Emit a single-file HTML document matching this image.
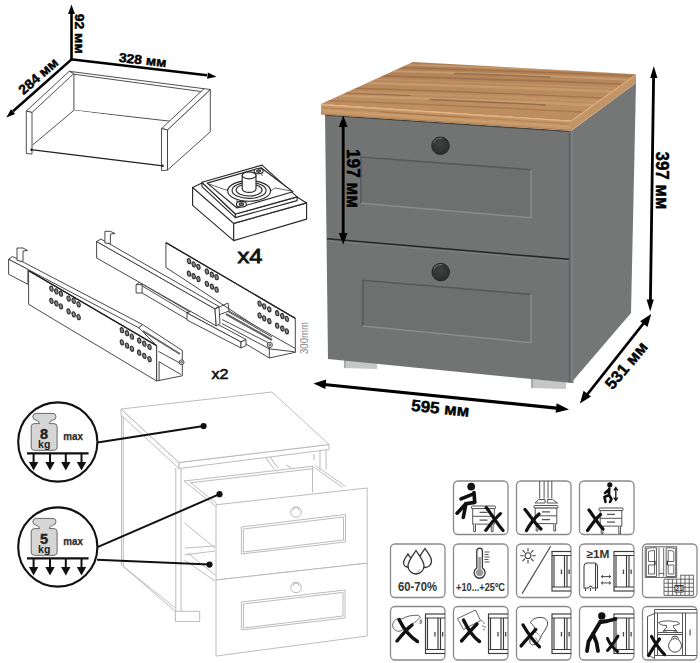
<!DOCTYPE html>
<html><head><meta charset="utf-8">
<style>
html,body{margin:0;padding:0;background:#fff;width:700px;height:663px;overflow:hidden}
svg{display:block}
text{font-family:"Liberation Sans",sans-serif}
.b{font-weight:bold}
</style></head><body>
<svg width="700" height="663" viewBox="0 0 700 663">
<!-- ============ LINE DRAWING (bottom-left) ============ -->
<g id="ld" fill="#fff" stroke="#b4b4b4" stroke-width="0.9" stroke-linejoin="round">
<!-- body left side -->
<path d="M121.5,415 V565 L175.4,611.3 M123.3,417 V566.5 L175.4,608" fill="none"/>
<path d="M175.8,468 V611.5 M181,468 V611.5" fill="none"/>
<polygon points="175.4,611.3 199.7,611.3 199.7,621.5 175.4,621.5"/>
<path d="M320,449.5 V470 M326,449.5 V470" fill="none"/>
<!-- top -->
<polygon points="121,409 179,462.5 179,468.5 121,415"/>
<polygon points="179,462.5 329,444.5 329,449.5 179,468.5"/>
<polygon points="121,409 272,392 329,444.5 179,462.5"/>
<!-- open drawer 1 inner -->
<path d="M184,481 L312.5,466.3 M190,482.8 L312.5,468.8 M312.5,466.3 V492.5 M184,481 L215.5,506 M190,482 L216.5,503.5 M312.5,466.3 L342.5,487.5 M315.5,465.5 L345.5,486.5" fill="none"/>
<path d="M184.4,522.8 L215,548 M184.4,554.9 L215,551 M184.4,560 L215,581 M185,548 L215,546 M188,553 L215,575" fill="none"/>
<!-- hardware glimpses -->
<path d="M266,458 L274,469 M270,457 L278,468 M286,465 L291,468 M314,454 V460" fill="none" stroke="#aaa"/>
<!-- drawer fronts -->
<polygon points="216,504.8 367.2,488 367.2,563.2 216,580"/>
<polygon points="216,580 367.2,563.2 367.2,636 216,656"/>
<polygon points="241.4,527 345.5,514.4 345.5,542 241.4,554"/>
<polygon points="243.4,529 343.5,517 343.5,540 243.4,552" fill="none"/>
<polygon points="241.4,602 345,590 345,618 241.4,630"/>
<polygon points="243.4,604 343,592.4 343,616 243.4,628" fill="none"/>
<circle cx="296" cy="512" r="5.3"/>
<circle cx="296" cy="587.5" r="5.3"/>
<path d="M293,510.5 A3,3 0 0 1 299,510.5 M293,586 A3,3 0 0 1 299,586" fill="none"/>
</g>
<!-- leader lines -->
<g stroke="#111" stroke-width="2" fill="none">
<path d="M97.5,442.6 L203.6,426"/>
<path d="M97.5,547.2 L219.5,494.2"/>
<path d="M97,559.8 L209.5,564.6"/>
</g>
<g fill="#111">
<circle cx="203.6" cy="426" r="3.1"/>
<circle cx="219.5" cy="494.2" r="3.1"/>
<circle cx="209.5" cy="564.6" r="3.1"/>
</g>
<!-- weight circles -->
<defs>
<g id="wt">
<circle cx="57.8" cy="442" r="39.6" fill="#fff" stroke="#111" stroke-width="2.1"/>
<path d="M36,413.4 H53 Q56,413.4 56,416.8 Q56,419.6 52.5,420.3 Q49.3,421 49.3,423.6 H54 Q57.1,423.6 57.1,427 V447 Q57.1,450.3 54,450.3 H34.3 Q31.2,450.3 31.2,447 V427 Q31.2,423.6 34.3,423.6 H39.5 Q39.5,421 36.2,420.3 Q32.8,419.6 32.8,416.8 Q32.8,413.4 36,413.4 Z" fill="#d6d6d6" stroke="#6a6a6a" stroke-width="1"/>
<text x="44.2" y="448" font-size="10.5" class="b" text-anchor="middle" fill="#222">kg</text>
<text x="63.3" y="440.3" font-size="11.5" class="b" fill="#2a2a2a" stroke="#2a2a2a" stroke-width="0.25" textLength="19.6" lengthAdjust="spacingAndGlyphs">max</text>
<path d="M27,453.4 H88.6" stroke="#111" stroke-width="2.2"/>
<path d="M33.6,453 V463 M50,453 V463 M65.8,453 V463 M81.5,453 V463" stroke="#111" stroke-width="2"/>
<path d="M28.9,462 H38.3 L33.6,470.5 Z M45.3,462 H54.7 L50,470.5 Z M61.1,462 H70.5 L65.8,470.5 Z M76.8,462 H86.2 L81.5,470.5 Z" fill="#111"/>
</g>
</defs>
<use href="#wt"/>
<text x="44" y="438.6" font-size="14.5" class="b" text-anchor="middle" fill="#222" stroke="#222" stroke-width="0.4">8</text>
<use href="#wt" y="105"/>
<text x="44" y="543.6" font-size="14.5" class="b" text-anchor="middle" fill="#222" stroke="#222" stroke-width="0.4">5</text>

<!-- ============ DRAWER BOX (top-left) ============ -->
<g id="box" fill="#fff" stroke="#3c3c3c" stroke-width="0.9" stroke-linejoin="round">
<!-- back panel -->
<polygon points="69.2,71.3 204,88.7 204,125 73.9,110.3 73.9,74"/>
<path d="M73.9,74.2 L201,91.5" fill="none"/>
<!-- bottom -->
<polygon points="32,145 73.9,110.3 166,122.3 162.8,165.8 30.7,149.6" stroke="none"/>
<path d="M32.6,145 L73.9,110.3" fill="none"/>
<path d="M31,149.6 L162.8,165.8" fill="none" stroke-width="1.3" stroke="#222"/>
<!-- left panel -->
<polygon points="26.3,111 69.2,71.3 73.9,73.5 32,112.5"/>
<polygon points="26.3,111 32,112.5 32,154 26.3,153.5"/>
<!-- right panel -->
<polygon points="167.5,129.9 210.3,89.5 210.3,131.8 167.5,170.1"/>
<polygon points="161.5,128.6 204,88.7 210.3,89.5 167.5,129.9"/>
<polygon points="161.5,128.6 167.5,129.9 167.5,170.1 161.5,170.6"/>
<circle cx="31.5" cy="149.8" r="1.2" fill="#222" stroke="none"/>
<circle cx="162.6" cy="165.8" r="1.2" fill="#222" stroke="none"/>
</g>
<!-- dims -->
<g stroke="#000" stroke-width="2.6" fill="none" stroke-linecap="butt">
<path d="M71.5,59.4 L71.5,13"/>
<path d="M70.5,59.3 L207,75.2"/>
<path d="M72.4,58.6 L13,111.3"/>
</g>
<g fill="#000">
<polygon points="71.5,4.6 68.1,14 74.9,14"/>
<polygon points="216.5,76.8 207.9,72.6 207.1,78.8"/>
<polygon points="6.3,117.6 11,109.3 15.2,114"/>
</g>
<g class="b" stroke="#000" stroke-width="0.45">
<text font-size="13.5" transform="translate(75,13.7) rotate(90)" textLength="40" lengthAdjust="spacingAndGlyphs">92 мм</text>
<text font-size="13" transform="translate(118.4,61.8) rotate(6.3)" textLength="47.8" lengthAdjust="spacingAndGlyphs">328 мм</text>
<text font-size="13.5" transform="translate(23.6,95.3) rotate(-41.4)" textLength="47.5" lengthAdjust="spacingAndGlyphs">284 мм</text>
</g>

<!-- ============ LEG BASE x4 ============ -->
<g id="leg" fill="#fff" stroke="#2a2a2a" stroke-width="1.15" stroke-linejoin="round">
<polygon points="192.6,187.4 233.7,223.4 233.7,240.6 192.6,205.4"/>
<polygon points="233.7,223.4 306.6,202.9 306.6,219.1 233.7,240.6"/>
<polygon points="192.6,187.4 202,183 297,197 306.6,202.9 233.7,223.4"/>
<!-- plate -->
<polygon points="202,182.3 235.4,214 235.4,217.6 202,186.6"/>
<polygon points="235.4,214 297.1,196.9 297.1,200.6 235.4,217.6"/>
<polygon points="202,182.3 262,165.1 297.1,196.9 235.4,214"/>
<polygon points="207.1,183.1 261.1,167.7 292.9,191.7 237.1,208"/>
<path d="M209,184 L226,190 L237,186 M291,191 L275,188 L268,193 M237.1,208 L237,198 M261.1,167.7 L262,176" fill="none" stroke-width="0.7"/>
<ellipse cx="249.1" cy="190.9" rx="21.4" ry="10.3"/>
<ellipse cx="249.1" cy="190.4" rx="17" ry="8"/>
<ellipse cx="249.1" cy="190" rx="13" ry="6"/>
<path d="M242.2,189 L242.2,175.4 A6.9,3.4 0 0 1 256,175.4 L256,189 A6.9,3.4 0 0 1 242.2,189 Z"/>
<ellipse cx="249.1" cy="175.4" rx="6.9" ry="3.4"/>
<ellipse cx="241.4" cy="204.2" rx="5" ry="2.8"/>
<ellipse cx="241.4" cy="204.2" rx="2.2" ry="1.3" fill="#888"/>
<ellipse cx="258.6" cy="171.1" rx="4.5" ry="2.6"/>
<ellipse cx="258.6" cy="171.1" rx="2" ry="1.2" fill="#888"/>
</g>
<text x="237.5" y="262.5" font-size="19.5" textLength="25" lengthAdjust="spacingAndGlyphs" fill="#111" stroke="#111" stroke-width="0.8">x4</text>

<!-- ============ SLIDES ============ -->
<g id="slide2" fill="#fff" stroke="#333" stroke-width="0.9" stroke-linejoin="round">
<polygon points="165.9,242.6 295.3,318.3 295.3,352.3 165.9,267.4"/>
<path d="M165.9,242.6 L295.3,318.3" fill="none" stroke="#222" stroke-width="1.4"/>
<g fill="#8e8e8e" stroke="#2e2e2e" stroke-width="1.1">
<ellipse cx="189.0" cy="261.1" rx="1.6" ry="2.6" transform="rotate(-12 189.0 261.1)"/>
<ellipse cx="193.7" cy="264.3" rx="1.6" ry="2.6" transform="rotate(-12 193.7 264.3)"/>
<ellipse cx="198.4" cy="266.8" rx="1.6" ry="2.6" transform="rotate(-12 198.4 266.8)"/>
<ellipse cx="206.9" cy="271.5" rx="1.6" ry="2.6" transform="rotate(-12 206.9 271.5)"/>
<ellipse cx="211.9" cy="274.7" rx="1.6" ry="2.6" transform="rotate(-12 211.9 274.7)"/>
<ellipse cx="216.6" cy="277.2" rx="1.6" ry="2.6" transform="rotate(-12 216.6 277.2)"/>
<ellipse cx="189.0" cy="273.7" rx="1.6" ry="2.6" transform="rotate(-12 189.0 273.7)"/>
<ellipse cx="193.7" cy="276.2" rx="1.6" ry="2.6" transform="rotate(-12 193.7 276.2)"/>
<ellipse cx="198.4" cy="279.0" rx="1.6" ry="2.6" transform="rotate(-12 198.4 279.0)"/>
<ellipse cx="206.9" cy="283.8" rx="1.6" ry="2.6" transform="rotate(-12 206.9 283.8)"/>
<ellipse cx="211.9" cy="286.6" rx="1.6" ry="2.6" transform="rotate(-12 211.9 286.6)"/>
<ellipse cx="216.6" cy="289.7" rx="1.6" ry="2.6" transform="rotate(-12 216.6 289.7)"/>
<ellipse cx="259.6" cy="303.6" rx="1.6" ry="2.6" transform="rotate(-12 259.6 303.6)"/>
<ellipse cx="264.2" cy="306.4" rx="1.6" ry="2.6" transform="rotate(-12 264.2 306.4)"/>
<ellipse cx="269.3" cy="309.3" rx="1.6" ry="2.6" transform="rotate(-12 269.3 309.3)"/>
<ellipse cx="277.2" cy="313.2" rx="1.6" ry="2.6" transform="rotate(-12 277.2 313.2)"/>
<ellipse cx="282.3" cy="316.0" rx="1.6" ry="2.6" transform="rotate(-12 282.3 316.0)"/>
<ellipse cx="286.8" cy="318.9" rx="1.6" ry="2.6" transform="rotate(-12 286.8 318.9)"/>
<ellipse cx="259.6" cy="315.5" rx="1.6" ry="2.6" transform="rotate(-12 259.6 315.5)"/>
<ellipse cx="264.2" cy="318.3" rx="1.6" ry="2.6" transform="rotate(-12 264.2 318.3)"/>
<ellipse cx="269.3" cy="321.1" rx="1.6" ry="2.6" transform="rotate(-12 269.3 321.1)"/>
<ellipse cx="277.2" cy="325.7" rx="1.6" ry="2.6" transform="rotate(-12 277.2 325.7)"/>
<ellipse cx="282.3" cy="328.5" rx="1.6" ry="2.6" transform="rotate(-12 282.3 328.5)"/>
<ellipse cx="286.8" cy="331.3" rx="1.6" ry="2.6" transform="rotate(-12 286.8 331.3)"/>
</g>
<polygon points="216,316 229,311 295.3,348.5 295.3,352.3 269.3,358 216,326"/>
<path d="M269.3,343.2 V358 M222,319.5 L269.3,343.2 M222,323.5 L269.3,348.9 L294.2,351.7 M228,311.5 L272,337" fill="none"/>
<path d="M226,314 L272,340" fill="none" stroke="#666" stroke-width="2.2"/>
<circle cx="269.8" cy="344.9" r="2.6"/>
<circle cx="269.8" cy="344.9" r="1"/>
<polygon points="136.1,284.6 139.5,282.3 188.3,311 188.3,320 142.1,293 136.1,293"/>
<path d="M136.1,284.6 H142.1 V293 M142.1,284.6 L145.5,282.3 M142.1,285.8 L188.3,313.5" fill="none"/>
<polygon points="187,313 192,310.5 246,339.5 241,342"/>
<polygon points="187,313 241,342 241,348 187,320"/>
<polygon points="241,342 246,339.5 246,345.5 241,348"/>
<polygon points="96.6,241.5 215,308.9 216.2,325.9 96.6,258"/>
<polygon points="96.6,241.5 101,239 219,306.5 215,308.9"/>
<polygon points="215,308.9 219,306.5 220,323.5 216.2,325.9"/>
<path d="M215,308.9 L228,303 L229,311" fill="none"/>
<polygon points="104.9,243 104.9,231.3 110.4,231.3 115.1,233.6 110.4,234 110.4,243.5"/>
</g>
<g id="slide1" fill="#fff" stroke="#333" stroke-width="0.9" stroke-linejoin="round">
<polygon points="8.6,259.3 12.5,256.5 142.5,324.5 138.8,327.8"/>
<polygon points="8.6,259.3 27.9,269.3 27.9,284.3 8.6,274.3"/>
<polygon points="17,260.5 17,248 23,248 27.5,250.5 23,251 23,261.5"/>
<polygon points="138.8,327.8 142.5,324.5 182.3,350.5 182.3,375.8 156.6,381 156.6,345.6"/>
<path d="M158.5,351.4 L179.7,363 M159.1,361.7 L181,374.6 M159.1,361.7 V381" fill="none"/>
<path d="M143,331 L180,354" fill="none" stroke="#666" stroke-width="2"/>
<circle cx="181.6" cy="362.3" r="2.4"/>
<circle cx="181.6" cy="362.3" r="0.9"/>
<polygon points="28.6,270.7 156.6,345.6 156.6,381 28.6,304.3"/>
<path d="M28.6,270.7 L156.6,345.6" fill="none" stroke="#222" stroke-width="1.4"/>
<g fill="#8e8e8e" stroke="#2e2e2e" stroke-width="1.1">
<ellipse cx="51.4" cy="288.6" rx="1.6" ry="2.6" transform="rotate(-12 51.4 288.6)"/>
<ellipse cx="56.3" cy="291.4" rx="1.6" ry="2.6" transform="rotate(-12 56.3 291.4)"/>
<ellipse cx="60.9" cy="293.7" rx="1.6" ry="2.6" transform="rotate(-12 60.9 293.7)"/>
<ellipse cx="68.6" cy="298.6" rx="1.6" ry="2.6" transform="rotate(-12 68.6 298.6)"/>
<ellipse cx="73.7" cy="300.9" rx="1.6" ry="2.6" transform="rotate(-12 73.7 300.9)"/>
<ellipse cx="78.6" cy="304.3" rx="1.6" ry="2.6" transform="rotate(-12 78.6 304.3)"/>
<ellipse cx="51.4" cy="300.9" rx="1.6" ry="2.6" transform="rotate(-12 51.4 300.9)"/>
<ellipse cx="56.3" cy="303.4" rx="1.6" ry="2.6" transform="rotate(-12 56.3 303.4)"/>
<ellipse cx="60.9" cy="306.3" rx="1.6" ry="2.6" transform="rotate(-12 60.9 306.3)"/>
<ellipse cx="68.6" cy="311.4" rx="1.6" ry="2.6" transform="rotate(-12 68.6 311.4)"/>
<ellipse cx="73.7" cy="314.3" rx="1.6" ry="2.6" transform="rotate(-12 73.7 314.3)"/>
<ellipse cx="78.6" cy="317.1" rx="1.6" ry="2.6" transform="rotate(-12 78.6 317.1)"/>
<ellipse cx="121.9" cy="330.2" rx="1.6" ry="2.6" transform="rotate(-12 121.9 330.2)"/>
<ellipse cx="127.0" cy="333.2" rx="1.6" ry="2.6" transform="rotate(-12 127.0 333.2)"/>
<ellipse cx="131.9" cy="336.6" rx="1.6" ry="2.6" transform="rotate(-12 131.9 336.6)"/>
<ellipse cx="139.2" cy="340.5" rx="1.6" ry="2.6" transform="rotate(-12 139.2 340.5)"/>
<ellipse cx="144.3" cy="343.7" rx="1.6" ry="2.6" transform="rotate(-12 144.3 343.7)"/>
<ellipse cx="149.5" cy="346.9" rx="1.6" ry="2.6" transform="rotate(-12 149.5 346.9)"/>
<ellipse cx="121.9" cy="342.4" rx="1.6" ry="2.6" transform="rotate(-12 121.9 342.4)"/>
<ellipse cx="127.0" cy="345.6" rx="1.6" ry="2.6" transform="rotate(-12 127.0 345.6)"/>
<ellipse cx="131.9" cy="348.8" rx="1.6" ry="2.6" transform="rotate(-12 131.9 348.8)"/>
<ellipse cx="139.2" cy="352.7" rx="1.6" ry="2.6" transform="rotate(-12 139.2 352.7)"/>
<ellipse cx="144.3" cy="355.9" rx="1.6" ry="2.6" transform="rotate(-12 144.3 355.9)"/>
<ellipse cx="149.5" cy="359.1" rx="1.6" ry="2.6" transform="rotate(-12 149.5 359.1)"/>
</g>
</g>

<!-- ============ NIGHTSTAND ============ -->
<g id="stand">
<polygon points="344,359 377,362 377,369 344,368" fill="#c6c6c6"/>
<polygon points="344,359 346,359.2 346,368.2 344,368" fill="#aaaaaa"/>
<polygon points="531,379 566,382 566,389 531,388" fill="#c6c6c6"/>
<polygon points="531,379 533,379.2 533,388.1 531,388" fill="#aaaaaa"/>
<polygon points="571,131 636,83 631,313 571,383" fill="#757777"/>
<polygon points="325,114.5 572,131 572,383 328,359" fill="#727373"/>
<path d="M325,115.2 L571,131.6" stroke="#3c3d3d" stroke-width="1.3" opacity="0.85"/>
<polygon points="568.5,131 570.8,131 570.8,383 568.5,382" fill="#636568"/>
<polygon points="570.8,131 573.5,131 573.5,383 570.8,383" fill="#7c7e80"/>
<path d="M327,238.8 L569,259.3" stroke="#262626" stroke-width="1.5" fill="none"/>
<path d="M328,241 L568,261.3" stroke="#7e7f7f" stroke-width="1" fill="none"/>
<!-- inset panels -->
<polygon points="361,157 531,169.7 531,217.7 361,203.3" fill="#6e6f6f"/>
<path d="M361,203.3 L361,157 L531,169.7" stroke="#58595a" stroke-width="1.6" fill="none"/>
<path d="M531,169.7 L531,217.7 L361,203.3" stroke="#8a8b8c" stroke-width="1.5" fill="none"/>
<polygon points="362.7,280.3 531,294.4 531,342.7 362.7,326" fill="#6e6f6f"/>
<path d="M362.7,326 L362.7,280.3 L531,294.4" stroke="#58595a" stroke-width="1.6" fill="none"/>
<path d="M531,294.4 L531,342.7 L362.7,326" stroke="#8a8b8c" stroke-width="1.5" fill="none"/>
<!-- knobs -->
<radialGradient id="kn" cx="0.45" cy="0.4" r="0.6"><stop offset="0" stop-color="#404141"/><stop offset="1" stop-color="#2c2d2d"/></radialGradient>
<circle cx="440.5" cy="145.7" r="8.8" fill="url(#kn)" stroke="#272828" stroke-width="1"/>
<path d="M433.6,143 A7.5,7.5 0 0 1 442,138.4" stroke="#6e6f6f" stroke-width="1.1" fill="none"/>
<circle cx="440.7" cy="272.1" r="8.8" fill="url(#kn)" stroke="#272828" stroke-width="1"/>
<path d="M433.8,269.4 A7.5,7.5 0 0 1 442.2,264.8" stroke="#6e6f6f" stroke-width="1.1" fill="none"/>
<!-- wood top -->
<filter id="soft" x="-5%" y="-5%" width="110%" height="110%"><feGaussianBlur stdDeviation="0.6"/></filter>
<clipPath id="topclip"><polygon points="321,104 413,62 636,74.3 571,120.7"/></clipPath>
<linearGradient id="wg" gradientUnits="userSpaceOnUse" x1="0" y1="62" x2="0" y2="121">
<stop offset="0" stop-color="#ae7f55"/><stop offset="0.4" stop-color="#b9895c"/><stop offset="0.75" stop-color="#bf8f61"/><stop offset="1" stop-color="#bc8c5f"/>
</linearGradient>
<polygon points="321,104 413,62 636,74.3 571,120.7" fill="url(#wg)"/>
<g clip-path="url(#topclip)"><g filter="url(#soft)" fill="none" stroke-linecap="round">
<path d="M400,64.5 C470,67 560,69.5 640,73.5" stroke="#d3a880" stroke-width="1.5" opacity="0.6"/>
<path d="M395,67.5 C470,70 560,72 640,76.5" stroke="#8a5d3c" stroke-width="1.4" opacity="0.45"/>
<path d="M385,71 C470,73 560,76 640,80.5" stroke="#d5aa82" stroke-width="2.2" opacity="0.55"/>
<path d="M370,75.5 C450,77.5 550,81 640,85" stroke="#8d603f" stroke-width="1.8" opacity="0.5"/>
<path d="M360,79 C440,81 540,85 635,89" stroke="#c99c70" stroke-width="1.5" opacity="0.5"/>
<path d="M350,82.5 C430,85 540,88 630,92.5" stroke="#d4a97f" stroke-width="2.4" opacity="0.5"/>
<path d="M340,88 C420,90 520,94 620,99" stroke="#8c5f3e" stroke-width="1.3" opacity="0.5"/>
<path d="M335,91.5 C420,94 520,97 615,102" stroke="#c99b6d" stroke-width="2" opacity="0.5"/>
<path d="M330,95.5 C410,98 520,101 610,106" stroke="#d6ab82" stroke-width="2.2" opacity="0.5"/>
<path d="M322,100.5 C400,103.5 500,107.5 590,112.5" stroke="#916443" stroke-width="1.4" opacity="0.45"/>
<path d="M430,99.5 C470,101 510,103 545,105" stroke="#6e4a30" stroke-width="1.4" opacity="0.5"/>
<path d="M455,73.5 C490,74.5 520,75.5 550,77" stroke="#704c33" stroke-width="1.3" opacity="0.5"/>
<path d="M345,93 C370,94 390,95 410,95.5" stroke="#765036" stroke-width="1.2" opacity="0.45"/>
</g></g>
<polygon points="321,104 571,120.7 571,130.7 321,114.5" fill="#c59668"/>
<g filter="url(#soft)" fill="none">
<path d="M322,107.5 L570,124" stroke="#a87444" stroke-width="1" opacity="0.6"/>
<path d="M322,110.5 L570,127" stroke="#d8a874" stroke-width="1" opacity="0.6"/>
<path d="M380,112 L470,118" stroke="#9a6a3c" stroke-width="1" opacity="0.6"/>
</g>
<path d="M321,104.6 L571,121.2" stroke="#e3b681" stroke-width="1.2"/>
<path d="M321,114 L571,130.3" stroke="#8f6238" stroke-width="0.8" opacity="0.6"/>
<polygon points="571,120.7 636,74.3 636,83 571,130.7" fill="#c39466"/>
<path d="M571.5,121 L636,74.8" stroke="#deb17f" stroke-width="1"/>
</g>
<g stroke="#000" stroke-width="2.8" fill="none">
<path d="M343.2,121 L343.2,239"/>
<path d="M653.6,76 L650.4,302"/>
<path d="M324,384.5 L559,408.3" stroke-width="3.2"/>
<path d="M586,396 L645,321.5"/>
</g>
<g fill="#000">
<polygon points="343.2,115.5 338.8,127 347.6,127"/>
<polygon points="343.2,244.5 338.8,233 347.6,233"/>
<polygon points="653.8,66 650.2,78 657.4,78.1"/>
<polygon points="650.2,311.5 646.6,299.5 653.8,299.6"/>
<polygon points="313.5,383.6 326.2,379.4 325.3,389"/>
<polygon points="569,409.4 556.6,403.2 555.6,412.8"/>
<polygon points="579.9,403.6 583.6,390.7 591,396.5"/>
<polygon points="651.2,314.1 647.5,327 640.1,321.2"/>
</g>
<g class="b" stroke="#000" stroke-width="0.45">
<text font-size="18" transform="translate(347,149) rotate(90)" textLength="59" lengthAdjust="spacingAndGlyphs">197 мм</text>
<text font-size="18" transform="translate(655.7,151.5) rotate(90)" textLength="58" lengthAdjust="spacingAndGlyphs">397 мм</text>
<text font-size="16.3" transform="translate(410.7,410.8) rotate(5.8)" textLength="58.5" lengthAdjust="spacingAndGlyphs">595 мм</text>
<text font-size="16.3" transform="translate(612.5,390.5) rotate(-50)" textLength="56" lengthAdjust="spacingAndGlyphs">531 мм</text>
</g>

<!-- ============ ICON GRID ============ -->
<defs>
<clipPath id="bx"><rect x="0" y="0" width="54.5" height="53.5" rx="4"/></clipPath>
<g id="ward" fill="none" stroke="#3a3a3a" stroke-width="1.15">
<rect x="35.5" y="7.5" width="22" height="39.5"/>
<path d="M35.5,11.5 H57.5 M35.5,43 H57.5 M37.5,11.5 V43 M48,11.5 V43 M50.5,11.5 V43"/>
<rect x="44.3" y="25.5" width="1.3" height="4.5" fill="#4a4a4a" stroke="none"/>
<rect x="52" y="25.5" width="1.3" height="4.5" fill="#4a4a4a" stroke="none"/>
</g>
<g id="mini" fill="#fff" stroke="#555" stroke-width="1">
<rect x="0" y="0" width="24" height="2.6" rx="0.6"/>
<rect x="1.2" y="2.6" width="21.6" height="15.5"/>
<path d="M1.2,10.3 H22.8" fill="none"/>
<path d="M8,6.4 H16 M8,14.2 H16" fill="none" stroke-width="1.3"/>
<path d="M2.2,18.1 V25.5 H4 V18.1 M19.8,18.1 V25.5 H21.6 V18.1" fill="#fff"/>
</g>
</defs>
<g fill="#fff" stroke="#8a8a8a" stroke-width="1.3">
<rect x="453.5" y="481" width="54.5" height="53.5" rx="4.5"/>
<rect x="516.5" y="481" width="54.5" height="53.5" rx="4.5"/>
<rect x="579.5" y="481" width="54.5" height="53.5" rx="4.5"/>
<rect x="390.5" y="544" width="54.5" height="53.5" rx="4.5"/>
<rect x="453.5" y="544" width="54.5" height="53.5" rx="4.5"/>
<rect x="516.5" y="544" width="54.5" height="53.5" rx="4.5"/>
<rect x="579.5" y="544" width="54.5" height="53.5" rx="4.5"/>
<rect x="642.5" y="544" width="54.5" height="53.5" rx="4.5"/>
<rect x="390.5" y="606.5" width="54.5" height="53.5" rx="4.5"/>
<rect x="453.5" y="606.5" width="54.5" height="53.5" rx="4.5"/>
<rect x="516.5" y="606.5" width="54.5" height="53.5" rx="4.5"/>
<rect x="579.5" y="606.5" width="54.5" height="53.5" rx="4.5"/>
<rect x="642.5" y="606.5" width="54.5" height="53.5" rx="4.5"/>
</g>

<!-- R1C1 sitting -->
<g transform="translate(453.5,481)">
<use href="#mini" x="18" y="25"/>
<g stroke="#111" stroke-width="3.6" stroke-linecap="round" fill="none">
<path d="M20.5,11.5 L21.2,21"/>
<path d="M20,12.8 L7.5,17.8"/>
<path d="M21.2,21.4 L12.4,22.8 L3.6,32.2"/>
<path d="M12.4,22.8 L9.8,36.5"/>
</g>
<circle cx="17.7" cy="5.6" r="3.9" fill="#111"/>
<path d="M32.8,26.5 C38,33 43,42 49.5,49.5 M46.9,32.6 C41,38 36,44 32.3,49.3" stroke="#111" stroke-width="3.2" stroke-linecap="round" fill="none"/>
</g>
<!-- R1C2 standing -->
<g transform="translate(516.5,481)">
<use href="#mini" x="17.5" y="24.5"/>
<g fill="#fff" stroke="#555" stroke-width="1">
<path d="M23.2,0 V17.5 M27.6,0 V17.5 M31.5,0 V17.5 M35.3,0 V17.5"/>
<path d="M18.5,22 L22,18.5 L28.5,18.5 L28.5,22 Z M30.5,22 L31,18.5 L36,18.5 L41,22 Z"/>
</g>
<path d="M8.5,28.5 C14,35 18,42 24.5,48 M22.5,33 C17,38 13,44 10,49.5" stroke="#111" stroke-width="3.2" stroke-linecap="round" fill="none"/>
</g>
<!-- R1C3 jumping -->
<g transform="translate(579.5,481)">
<use href="#mini" x="19.5" y="27"/>
<circle cx="30.3" cy="3.8" r="2.6" fill="#111"/>
<g stroke="#111" stroke-width="2.6" stroke-linecap="round" fill="none">
<path d="M29.8,7.5 L29.5,14 M29.5,8.5 L25.5,12 M29.5,14 L25,16 L26,21 M29.5,14 L32,18 L30.5,21"/>
</g>
<path d="M36.3,7 V19 M34.3,9.5 L36.3,6.5 L38.3,9.5 M34.3,16.5 L36.3,19.5 L38.3,16.5" stroke="#111" stroke-width="1.3" fill="none"/>
<path d="M9.5,29 C14,35 18,42 23.5,48 M21,33.5 C16,38 12,44 8,49.5" stroke="#111" stroke-width="3.2" stroke-linecap="round" fill="none"/>
</g>

<!-- R2C1 drops -->
<g transform="translate(390.5,544)">
<g fill="#fff" stroke="#333" stroke-width="1.3">
<path d="M17.5,10 C15,13.5 13,16 13,18.5 A4.5,4.5 0 0 0 22,18.5 C22,16 20,13.5 17.5,10 Z"/>
<path d="M34.5,4.5 C31,9.5 28,13 28,17 A6.5,6.5 0 0 0 41,17 C41,13 38,9.5 34.5,4.5 Z"/>
<path d="M25.5,6.5 C21.5,12.5 17.5,17 17.5,22 A8,8 0 0 0 33.5,22 C33.5,17 29.5,12.5 25.5,6.5 Z"/>
</g>
<path d="M29.5,25.5 A4.5,4.5 0 0 1 26,28.5" stroke="#bbb" stroke-width="1.2" fill="none"/>
<text x="27" y="46.5" font-size="12" class="b" text-anchor="middle" fill="#333" textLength="39" lengthAdjust="spacingAndGlyphs">60-70%</text>
</g>
<!-- R2C2 thermometer -->
<g transform="translate(453.5,544)">
<path d="M23.3,7 A2.8,2.8 0 0 1 28.9,7 V24 A5.5,5.5 0 1 1 23.3,24 Z" fill="#fff" stroke="#333" stroke-width="1.3"/>
<path d="M24.8,13 H27.4 V25 A3.8,3.8 0 1 1 24.8,25 Z" fill="#9a9a9a"/>
<path d="M31,8 H36 M31,10.5 H35 M31,13 H36 M31,15.5 H35 M31,18 H36" stroke="#555" stroke-width="1"/>
<text x="2.5" y="46.5" font-size="11" class="b" fill="#333" textLength="49" lengthAdjust="spacingAndGlyphs">+10...+25ºC</text>
</g>
<!-- R2C3 sun -->
<g transform="translate(516.5,544)" clip-path="url(#bx)">
<circle cx="11.5" cy="11.7" r="2.9" fill="#fff" stroke="#444" stroke-width="1.1"/>
<path d="M11.5,4 V7.5 M11.5,16 V19.5 M3.8,11.7 H7.3 M15.7,11.7 H19.2 M6,6.2 L8.5,8.7 M14.5,14.7 L17,17.2 M17,6.2 L14.5,8.7 M8.5,14.7 L6,17.2" stroke="#444" stroke-width="1.1"/>
<path d="M34.2,2.3 L5.6,49.6" stroke="#444" stroke-width="1.1"/>
<use href="#ward" x="0" y="0"/>
</g>
<!-- R2C4 radiator -->
<g transform="translate(579.5,544)" clip-path="url(#bx)">
<text x="7" y="13.5" font-size="11.5" class="b" fill="#333" textLength="23" lengthAdjust="spacingAndGlyphs">≥1M</text>
<path d="M4.5,23 Q4.5,19 8,19 H14.5 Q18,19 18,23 V44 H13 Q11,40 9,44 H4.5 Z" fill="#fff" stroke="#444" stroke-width="1.1"/>
<path d="M16,19.5 V44 M6,44 V47 M11,44 V47 M16,44 V47" stroke="#444" stroke-width="1.1" fill="none"/>
<path d="M22,32.6 H31 M22,38.9 H31 M23.5,31.2 L21.7,32.6 L23.5,34 M29.5,31.2 L31.3,32.6 L29.5,34 M23.5,37.5 L21.7,38.9 L23.5,40.3 M29.5,37.5 L31.3,38.9 L29.5,40.3" stroke="#444" stroke-width="1" fill="none"/>
<use href="#ward" x="-1" y="0"/>
</g>
<!-- R2C5 windows + tiles -->
<g transform="translate(642.5,544)" clip-path="url(#bx)">
<g fill="none" stroke="#555" stroke-width="0.9">
<rect x="2.7" y="2.8" width="31.5" height="30.6" fill="#fff"/>
<path d="M3.8,4.5 Q9,3.5 14,3.8 V32.5 H3.8 Z M23.7,3.8 Q29,3.5 33.2,4.5 V32.5 H23.7 Z"/>
<path d="M6,7.5 Q9,6.3 12,6.5 V17.5 H6 Z M6,21 H12 V30 H6 Z M25.7,6.5 Q29,6.3 31.3,7.5 V17.5 H25.7 Z M25.7,21 H31.3 V30 H25.7 Z"/>
<path d="M16.5,3.8 V32.5 M21.2,3.8 V32.5 M16.5,29.5 H21.2"/>
</g>
<path d="M12.3,16.8 V21.2 M24.9,16.8 V21.2" stroke="#333" stroke-width="1.5"/>
<rect x="21.5" y="35.2" width="29.4" height="16.2" fill="#fff"/>
<rect x="37.7" y="31.2" width="13.2" height="4" fill="#fff"/>
<path d="M21.5,35.2 H50.9 M21.5,39.2 H50.9 M21.5,43.3 H50.9 M21.5,47.3 H50.9 M21.5,51.4 H50.9 M37.7,31.2 H50.9 M21.5,35.2 V51.4 M25.7,35.2 V51.4 M29.9,35.2 V51.4 M34.1,35.2 V51.4 M38.3,31.2 V51.4 M42.5,31.2 V51.4 M46.7,31.2 V51.4 M50.9,31.2 V51.4" fill="none" stroke="#444" stroke-width="0.8"/>
<rect x="32.5" y="41.5" width="8" height="6.5" fill="#fff" stroke="#333" stroke-width="1"/>
<text x="36.5" y="47" font-size="6.5" class="b" text-anchor="middle" fill="#222">21</text>
</g>
<!-- R3C1 -->
<g transform="translate(390.5,606.5)" clip-path="url(#bx)">
<path d="M2,19 C2.5,13.5 7,11 11.5,12.5 C16,9.5 22,8.5 27.5,8.8 L30,10.5 C27.5,13 25,16 21.5,17.5 C17.5,20 14,22.5 10,24.5 C6,25.5 2.5,23 2,19 Z" fill="#fff" stroke="#555" stroke-width="0.9"/><path d="M30.5,13 C29.5,15 29,16.3 30,17.6 C31.2,16.3 31.2,15 30.5,13 Z" fill="#fff" stroke="#555" stroke-width="0.8"/>
<path d="M8.5,13 C13,22 19,30 27,35 M21.5,18.5 C16,23 11,29 6.5,34.5" stroke="#111" stroke-width="3.4" stroke-linecap="round" fill="none"/>
<use href="#ward" x="-0.5" y="0"/>
</g>
<!-- R3C2 -->
<g transform="translate(453.5,606.5)" clip-path="url(#bx)">
<path d="M4,12 L22,3.5 L27,14 L10,23 Z" fill="#fff" stroke="#555" stroke-width="0.9"/>
<path d="M28,14 l1,1 M30,16 l1,1 M29,19 l1,1 M31,20 l1,1 M30,22.5 l1,1" stroke="#666" stroke-width="1.1"/>
<path d="M10,13.5 C14,22 19,30 26,35 M23.5,17.5 C18,23 13,29 8,34.5" stroke="#111" stroke-width="3.4" stroke-linecap="round" fill="none"/>
<use href="#ward" x="-0.5" y="0"/>
</g>
<!-- R3C3 -->
<g transform="translate(516.5,606.5)" clip-path="url(#bx)">
<path d="M14,16 C16,12 21,10.5 25,11 C29,11.5 31.5,14 31,18 C30.5,22 27,25 25,29 C23.5,32.5 22,36 18.5,38 C15,39.5 12.5,37 13.5,33 C14.5,29 17,26 18,22 C18.5,19.5 15.5,18.5 14,16 Z" fill="#fff" stroke="#444" stroke-width="1"/>
<path d="M17,24 C19,26 22,27 24,30 M19,31 C20,33 21,34.5 22,36" stroke="#777" stroke-width="0.8" fill="none"/>
<path d="M6.5,18.4 C11,26 15,33 22.9,40.3 M19.3,22.9 C14,29 9,34 4.6,39.4" stroke="#111" stroke-width="3.3" stroke-linecap="round" fill="none"/>
<use href="#ward" x="0" y="0"/>
</g>
<!-- R3C4 pushing -->
<g transform="translate(579.5,606.5)" clip-path="url(#bx)">
<use href="#ward" x="-1" y="0"/>
<circle cx="22.3" cy="9.4" r="3.7" fill="#111"/>
<g stroke="#111" stroke-width="3.8" stroke-linecap="round" stroke-linejoin="round" fill="none">
<path d="M21,15 L13.5,27.5"/>
<path d="M13.5,27.5 L9,35 L7.5,44.5"/>
<path d="M13.5,27.5 L17,36 L18.5,44.5"/>
<path d="M21.5,15.5 L28,14.5 L36,12.5"/>
</g>
<path d="M28,32 C30,37 33,41 38,45 M38.5,29.5 C35,35 32,40 28,44" stroke="#111" stroke-width="3" stroke-linecap="round" fill="none"/>
</g>
<!-- R3C5 cabinet -->
<g transform="translate(642.5,606.5)" clip-path="url(#bx)">
<g fill="none" stroke="#555" stroke-width="1">
<path d="M12,3 H56 M12,6.5 H56 M12,3 V52 M15,6.5 V49 M40,6.5 V49 M43,6.5 V49 M15,26 H40 M15,28 H40 M12,49 H56"/>
<path d="M12,7 L5,10 L5,48 L12,52"/>
<rect x="47" y="23" width="1.2" height="6" fill="#555" stroke="none"/>
</g>
<path d="M16,16 C20,14 26,14 32,15 C35,15 37,16 37,17.5 C35,18 33,19 31,19 L31,21 L34,24 L21,24 L24,21 L24,19 C20,19 17,18 16,16 Z" fill="#fff" stroke="#444" stroke-width="0.9"/>
<path d="M24,24.5 Q21,24 20,25.5 M31,24.5 Q34,24 35,25.5" stroke="#444" stroke-width="0.9" fill="none"/>
<path d="M29,33 A3.5,3.5 0 0 1 36,33 L37,34.5 A6.5,6.5 0 1 1 28,34.5 Z M30.5,33.5 A2,2 0 0 1 34.5,33.5" fill="#fff" stroke="#444" stroke-width="1"/>
<path d="M9,30 C13,37 17,43 22,48 M17,32.5 C13,38 9,44 6,49" stroke="#111" stroke-width="3.2" stroke-linecap="round" fill="none"/>
</g>

<text x="211.5" y="378.5" font-size="15" fill="#111" stroke="#111" stroke-width="0.6" textLength="17" lengthAdjust="spacingAndGlyphs">x2</text>
<text transform="translate(307.8,354) rotate(-90)" font-size="10" fill="#8a8a8a" textLength="32" lengthAdjust="spacingAndGlyphs">300mm</text>
</svg>
</body></html>
